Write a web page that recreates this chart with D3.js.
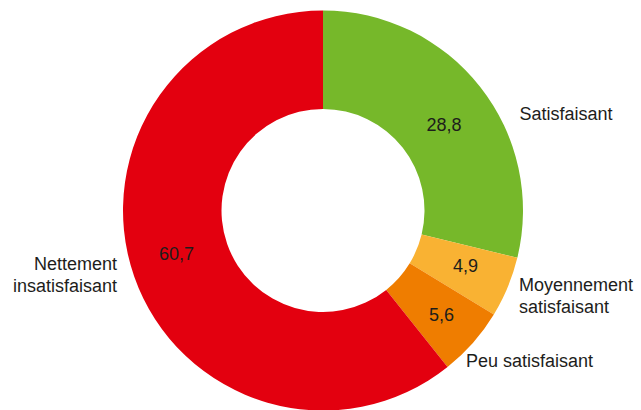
<!DOCTYPE html>
<html>
<head>
<meta charset="utf-8">
<script src="https://cdn.jsdelivr.net/npm/d3@7"></script>
<style>
  body { margin: 0; background: #fff; }
  svg text { font-family: "Liberation Sans", Arial, sans-serif; font-size: 18px; fill: #1d1d1b; }
</style>
</head>
<body>
<svg id="chart" width="641" height="410"></svg>
<script>
// values in %, clockwise from 12 o'clock
const categories = ['Satisfaisant', 'Moyennement satisfaisant', 'Peu satisfaisant', 'Nettement insatisfaisant'];
const values = [28.8, 4.9, 5.6, 60.7];
const valueLabels = ['28,8', '4,9', '5,6', '60,7'];
const colors = ['#76b82a', '#f9b233', '#ef7d00', '#e3000f'];

// category label lines (split for wrapping)
const catLines = [['Satisfaisant'], ['Moyennement', 'satisfaisant'], ['Peu satisfaisant'], ['Nettement', 'insatisfaisant']];

const svg = d3.select('#chart');
const cx = 323, cy = 210.5;
const outerR = 200, innerR = 101.5;

const pie = d3.pie().sort(null).value(d => d);
const arcs = pie(values);

const arc = d3.arc().innerRadius(innerR).outerRadius(outerR);
const labelArc = d3.arc().innerRadius(150).outerRadius(150);

const g = svg.append('g').attr('transform', `translate(${cx},${cy})`);

g.selectAll('path')
  .data(arcs)
  .enter()
  .append('path')
  .attr('d', arc)
  .attr('fill', (d, i) => colors[i]);

// small nudges so the numbers sit where the original has them
const valueNudge = [[3, 7], [4, -2], [6, 5], [-5, -6]];

g.selectAll('text.val')
  .data(arcs)
  .enter()
  .append('text')
  .attr('class', 'val')
  .attr('text-anchor', 'middle')
  .attr('dy', '0.35em')
  .attr('x', (d, i) => labelArc.centroid(d)[0] + valueNudge[i][0])
  .attr('y', (d, i) => labelArc.centroid(d)[1] + valueNudge[i][1])
  .text((d, i) => valueLabels[i]);

// category labels outside the ring
const catPos = [
  { x: 519.5, y: 120, anchor: 'start' },
  { x: 519, y: 291, anchor: 'start' },
  { x: 466, y: 367, anchor: 'start' },
  { x: 117, y: 270, anchor: 'end' }
];

catLines.forEach((lines, i) => {
  const t = svg.append('text')
    .attr('x', catPos[i].x)
    .attr('y', catPos[i].y)
    .attr('text-anchor', catPos[i].anchor);
  lines.forEach((line, j) => {
    t.append('tspan')
      .attr('x', catPos[i].x)
      .attr('dy', j === 0 ? 0 : 21.5)
      .text(line);
  });
});
</script>
</body>
</html>
